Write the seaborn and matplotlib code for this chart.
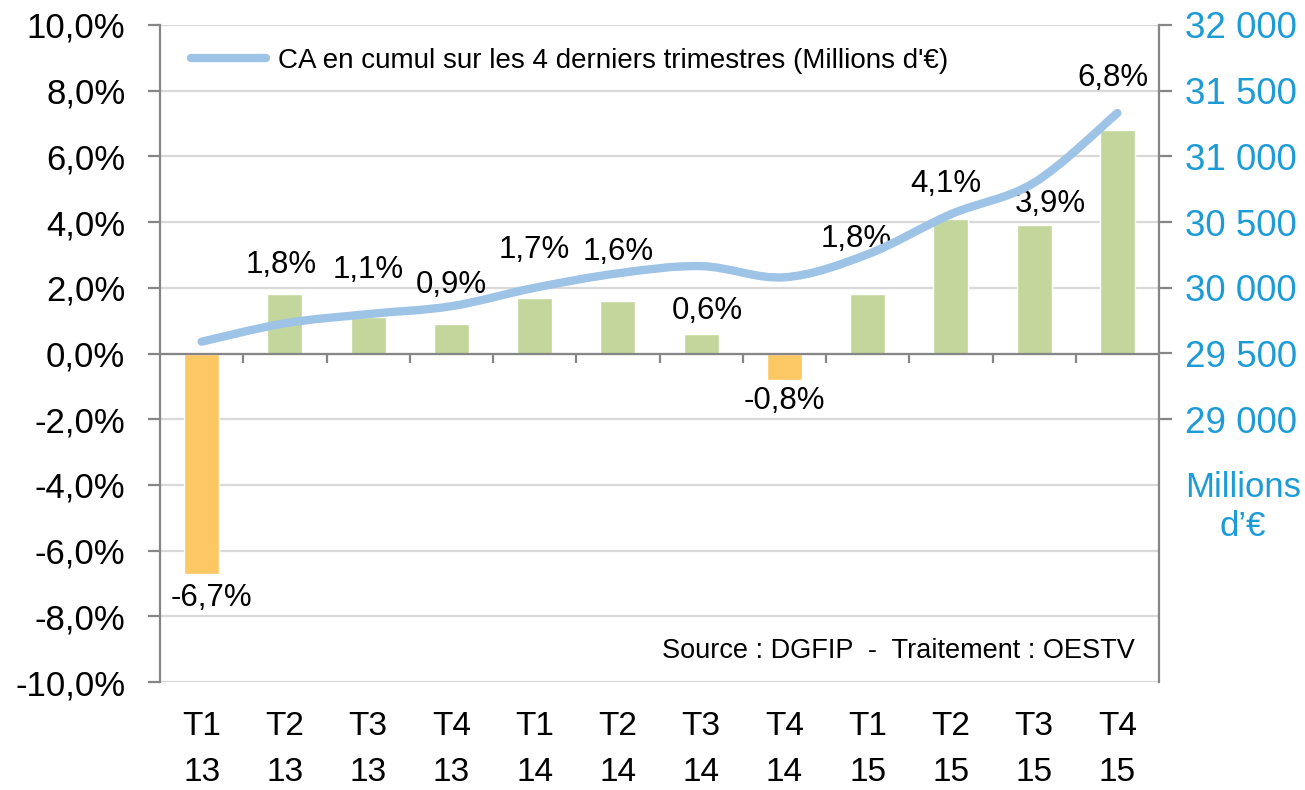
import numpy as np
import pandas as pd
import matplotlib
matplotlib.use("Agg")
import matplotlib.pyplot as plt
from matplotlib.path import Path
from matplotlib.patches import PathPatch
from matplotlib.lines import Line2D
import seaborn as sns

# 🔹 Data
trimestres = ['T1\n13', 'T2\n13', 'T3\n13', 'T4\n13',
              'T1\n14', 'T2\n14', 'T3\n14', 'T4\n14',
              'T1\n15', 'T2\n15', 'T3\n15', 'T4\n15']
evolution = [-6.7, 1.8, 1.1, 0.9, 1.7, 1.6, 0.6, -0.8, 1.8, 4.1, 3.9, 6.8]
ca_cumul = [29590, 29730, 29800, 29860, 30000, 30110, 30165, 30080,
            30255, 30560, 30800, 31330]
left_ticks = [-10, -8, -6, -4, -2, 0, 2, 4, 6, 8, 10]
right_ticks = [29000, 29500, 30000, 30500, 31000, 31500, 32000]
legend_label = "CA en cumul sur les 4 derniers trimestres (Millions d'€)"
source_label = "Source : DGFIP  -  Traitement : OESTV"
unit_label = "Millions\nd’€"

# label placement (manual, like the Excel original)
label_y = [-7.45, 2.7, 2.55, 2.1, 3.15, 3.1, 1.3, -1.45, 3.5, 5.15, 4.55, 8.4]
label_dx = [0.12, -0.05, 0.0, 0.0, 0.0, 0.0, 0.08, 0.0, -0.14, -0.06, 0.19, -0.05]

GREEN = '#C3D69B'
ORANGE = '#FCC864'
LINE = '#9DC3E6'
BLUE = '#1C9BD7'
GRAY = '#868686'
GRID = '#D9D9D9'

sns.set_style('white')
plt.rcParams['font.family'] = ['Liberation Sans', 'DejaVu Sans']
plt.rcParams['text.color'] = 'black'

df = pd.DataFrame({'trimestre': trimestres, 'evolution': evolution, 'ca': ca_cumul})
colors = [ORANGE if v < 0 else GREEN for v in evolution]

fig = plt.figure(figsize=(13.05, 7.9), dpi=100)
ax = fig.add_axes([160 / 1305, 1 - 682 / 790, 999 / 1305, 657 / 790])

sns.barplot(data=df, x='trimestre', y='evolution', hue='trimestre',
            palette=colors, width=0.42, legend=False, saturation=1, ax=ax)

ax.set_xlim(-0.5, len(trimestres) - 0.5)
ax.set_ylim(-10, 10)
ax.set_yticks(left_ticks)
ax.set_yticklabels([f"{v:.1f}%".replace('.', ',') for v in left_ticks])
ax.set_xlabel('')
ax.set_ylabel('')
ax.grid(axis='y', color=GRID, linewidth=1.6)
ax.set_axisbelow(True)
ax.axhline(0, color=GRAY, linewidth=1.6, zorder=2)

for side in ['top', 'bottom', 'right']:
    ax.spines[side].set_visible(False)
ax.spines['left'].set_color(GRAY)
ax.spines['left'].set_linewidth(1.6)
ax.tick_params(axis='y', direction='out', length=9, width=1.6, color=GRAY,
               labelsize=25, pad=16, labelcolor='black')
ax.tick_params(axis='x', length=0, labelsize=24, pad=21, labelcolor='black')
for lab in ax.get_xticklabels():
    lab.set_linespacing(1.6)

# small ticks between categories on the 0 line
ax.vlines(np.arange(len(trimestres) - 1) + 0.5, 0, -0.3, color=GRAY, linewidth=1.6, zorder=2)

# value labels
for i, v in enumerate(evolution):
    ax.text(i + label_dx[i], label_y[i], f"{v:.1f}%".replace('.', ','),
            ha='center', va='center', fontsize=22.5, color='black')

ax.text(0.976, 0.047, source_label, transform=ax.transAxes, ha='right', va='center',
        fontsize=19.5, color='black')

# 🔹 Secondary axis: smoothed line
ax2 = ax.twinx()
ax2.set_ylim(27000, 32000)
ax2.set_yticks(right_ticks)
ax2.set_yticklabels([f"{v:,}".replace(',', ' ') for v in right_ticks])
for side in ['top', 'bottom', 'left']:
    ax2.spines[side].set_visible(False)
ax2.spines['right'].set_color(GRAY)
ax2.spines['right'].set_linewidth(1.6)
ax2.tick_params(axis='y', direction='out', length=9, width=1.6, color=GRAY,
                labelsize=26.5, labelcolor=BLUE, pad=10)

xs = np.arange(len(ca_cumul), dtype=float)
pts = np.column_stack([xs, ca_cumul])
verts = [pts[0]]
codes = [Path.MOVETO]
n = len(pts)
for i in range(n - 1):
    p0 = pts[max(i - 1, 0)]
    p1 = pts[i]
    p2 = pts[i + 1]
    p3 = pts[min(i + 2, n - 1)]
    c1 = p1 + (p2 - p0) / 6
    c2 = p2 - (p3 - p1) / 6
    verts += [c1, c2, p2]
    codes += [Path.CURVE4] * 3
ax2.add_patch(PathPatch(Path(verts, codes), facecolor='none', edgecolor=LINE,
                        linewidth=6, capstyle='round', joinstyle='round', zorder=3))

handle = Line2D([], [], color=LINE, linewidth=6)
leg = ax2.legend([handle], [legend_label], loc='upper left', bbox_to_anchor=(0.031, 0.965),
                 frameon=False, fontsize=20, handlelength=2.7, handletextpad=0.43,
                 borderpad=0, borderaxespad=0)
for t in leg.get_texts():
    t.set_color('black')

fig.text(1243 / 1305, 1 - 507 / 790, unit_label, ha='center', va='center',
         fontsize=25, color=BLUE, linespacing=1.2)

fig.savefig('out.png', dpi=100)
